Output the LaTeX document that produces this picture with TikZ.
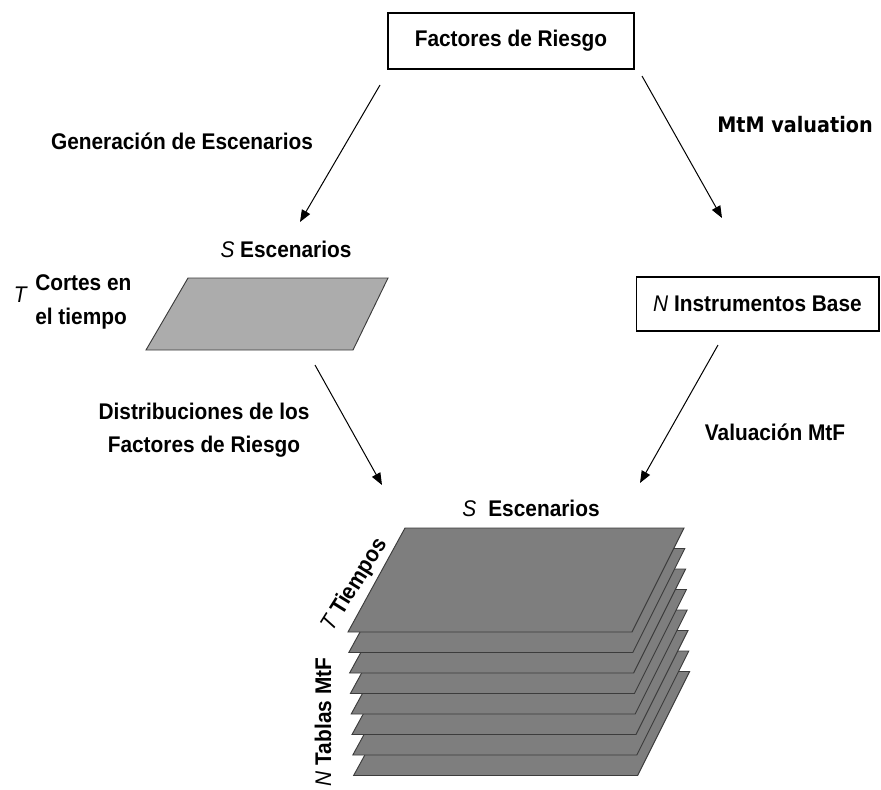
\documentclass[tikz,border=0pt]{standalone}
\usepackage{fontspec}
\setmainfont{Liberation Sans}
\newfontfamily\lblfont[FakeStretch=0.92]{Liberation Sans}
\newfontfamily\mtmfont[FakeStretch=0.9]{DejaVu Sans}
\usetikzlibrary{arrows.meta}

\definecolor{planegray}{RGB}{172,172,172}
\definecolor{sheetgray}{RGB}{126,126,126}
\definecolor{edgegray}{RGB}{60,60,60}

\tikzset{
  lbl/.style={font=\fontsize{17}{25}\selectfont\lblfont\bfseries, inner sep=0pt},
  flow/.style={-{Triangle[length=9pt,width=7pt]}, line width=0.75pt},
  boxnode/.style={draw, line width=1pt, lbl},
  sheet/.style={fill=sheetgray, draw=edgegray, line width=0.7pt}
}
\newcommand{\va}[1]{{\normalfont\lblfont\itshape #1}}

\begin{document}
\begin{tikzpicture}[x=0.75pt, y=-0.75pt]
    \useasboundingbox (0,0) rectangle (881,789);

    % Boxes
    \node[boxnode, minimum width=184.5pt, minimum height=42pt] (risk) at (511,41) {Factores de Riesgo};
    \node[boxnode, minimum width=182pt, minimum height=40.5pt] (inst) at (757.5,304) {\va{N} Instrumentos Base};

    % Labels of the upper part
    \node[lbl] (gen) at (182,141) {Generación de Escenarios};
    \node[inner sep=0pt, font=\fontsize{16}{20}\selectfont\mtmfont\bfseries] (mtm) at (795,125) {MtM valuation};
    \node[lbl] (scen) at (286,249) {\va{S} Escenarios};
    \node[lbl, anchor=east] (cut) at (27,295) {\va{T}};
    \node[lbl, anchor=west, align=left] (cuts) at (35,302) {Cortes en\\el tiempo};

    % Scenario plane
    \draw[fill=planegray, draw=edgegray, line width=0.7pt] (188,278) -- (388,278) -- (353,350) -- (146,350) -- cycle;

    % Labels of the lower part
    \node[lbl, align=center] (dist) at (204,430) {Distribuciones de los\\Factores de Riesgo};
    \node[lbl] (mtf) at (775,432) {Valuación MtF};
    \node[lbl] (scen2) at (531,508) {\va{S}\hspace{9pt}Escenarios};

    % Stack of MtF tables
    \foreach \k in {7,...,0} {
        \draw[sheet] ({405+0.8*\k},{528+20.5*\k}) -- ({684+0.8*\k},{528+20.5*\k})
            -- ({632+0.8*\k},{632+20.5*\k}) -- ({348+0.8*\k},{632+20.5*\k}) -- cycle;
    }
    \node[lbl, rotate=58] (tiempos) at (355,585) {\va{T} Tiempos};
    \node[lbl, rotate=90] (tablas) at (323,722) {\va{N} Tablas MtF};

    % Arrows
    \coordinate (a1s) at (380,85);  \coordinate (a1e) at (300,222);
    \coordinate (a2s) at (642,76);  \coordinate (a2e) at (722,218);
    \coordinate (a3s) at (315,365); \coordinate (a3e) at (382,485);
    \coordinate (a4s) at (718,345); \coordinate (a4e) at (640,483);
    \draw[flow] (a1s) -- (a1e);
    \draw[flow] (a2s) -- (a2e);
    \draw[flow] (a3s) -- (a3e);
    \draw[flow] (a4s) -- (a4e);
\end{tikzpicture}
\end{document}
